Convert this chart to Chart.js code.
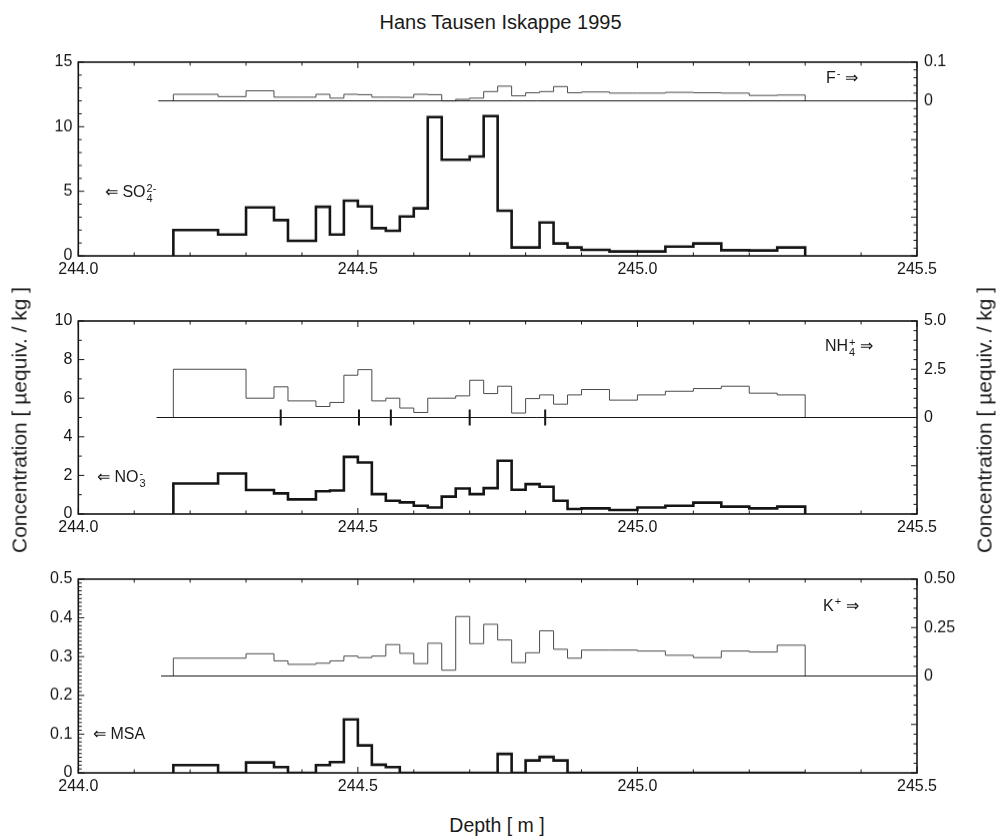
<!DOCTYPE html>
<html>
<head>
<meta charset="utf-8">
<script src="https://cdn.jsdelivr.net/npm/chart.js@4.4.1/dist/chart.umd.min.js"></script>
<style>
  body { margin: 0; background: #fff; }
  #page { position: relative; width: 1001px; height: 839px; overflow: hidden; background: #fff;
          font-family: 'Liberation Sans', Arial, sans-serif; color: #1a1a1a; }
  #page canvas { position: absolute; left: 0; }
  .txt { position: absolute; white-space: nowrap; line-height: 1; }
  .ion { font-size: 16px; }
  .ss { display: inline-block; vertical-align: -0.42em; font-size: 11px; line-height: 10px; margin-left: 1px; }
  .sup { font-size: 11px; vertical-align: 0.55em; margin-left: 1px; }
  .vert { transform: translate(-50%, -50%) rotate(-90deg); font-size: 21px; }
</style>
</head>
<body>
<div id="page">
  <div class="txt" style="left:0;width:1001px;text-align:center;top:12px;font-size:20px;">Hans Tausen Iskappe 1995</div>

  <canvas id="panelSulfate"></canvas>
  <canvas id="panelNitrate"></canvas>
  <canvas id="panelMsa"></canvas>

  <div class="txt ion" style="left:826px;top:68px;">F<span class="sup">-</span> &rArr;</div>
  <div class="txt ion" style="left:105px;top:183px;">&lArr; SO<span class="ss">2-<br>4</span></div>
  <div class="txt ion" style="left:825px;top:337px;">NH<span class="ss">+<br>4</span> &rArr;</div>
  <div class="txt ion" style="left:97px;top:468px;">&lArr; NO<span class="ss">-<br>3</span></div>
  <div class="txt ion" style="left:823px;top:596px;">K<span class="sup">+</span> &rArr;</div>
  <div class="txt ion" style="left:93px;top:726px;">&lArr; MSA</div>

  <div class="txt vert" style="left:19px;top:420px;">Concentration [ &micro;equiv. / kg ]</div>
  <div class="txt vert" style="left:984px;top:420px;">Concentration [ &micro;equiv. / kg ]</div>
  <div class="txt" style="left:0;width:994px;text-align:center;top:816px;font-size:19.5px;">Depth [ m ]</div>
</div>

<script>
// sample boundaries (m) shared by all species
const depthEdges = [244.17, 244.25, 244.30, 244.35, 244.375, 244.40, 244.425, 244.45, 244.475, 244.50,
  244.525, 244.55, 244.575, 244.60, 244.625, 244.65, 244.675, 244.70, 244.725, 244.75,
  244.775, 244.80, 244.825, 244.85, 244.875, 244.90, 244.95, 245.00, 245.05, 245.10,
  245.15, 245.20, 245.25, 245.30];

// one value per sample (µequiv/kg)
const sulfate = [2.0, 1.65, 3.75, 2.77, 1.17, 1.17, 3.8, 1.65, 4.27, 3.83,
  2.15, 1.94, 3.05, 3.68, 10.75, 7.44, 7.44, 7.7, 10.82, 3.5,
  0.65, 0.65, 2.59, 0.96, 0.65, 0.47, 0.34, 0.34, 0.72, 0.96,
  0.44, 0.42, 0.65];
const fluoride = [0.017, 0.011, 0.026, 0.0095, 0.0095, 0.0095, 0.017, 0.007, 0.017, 0.016,
  0.0095, 0.0095, 0.009, 0.017, 0.016, 0.0, 0.004, 0.007, 0.024, 0.038,
  0.013, 0.021, 0.024, 0.037, 0.021, 0.023, 0.02, 0.02, 0.022, 0.021,
  0.02, 0.014, 0.015];
const nitrate = [1.58, 2.1, 1.24, 1.07, 0.76, 0.76, 1.18, 1.22, 2.96, 2.67,
  1.03, 0.69, 0.6, 0.43, 0.34, 0.9, 1.32, 1.03, 1.34, 2.76,
  1.26, 1.55, 1.41, 0.69, 0.26, 0.29, 0.21, 0.34, 0.43, 0.59,
  0.38, 0.29, 0.38];
const ammonium = [2.5, 2.5, 1.0, 1.59, 0.86, 0.86, 0.57, 0.78, 2.19, 2.48,
  0.86, 1.0, 0.49, 0.26, 1.0, 1.0, 1.12, 1.93, 1.24, 1.62,
  0.23, 0.98, 1.17, 0.69, 1.17, 1.45, 0.9, 1.17, 1.36, 1.5,
  1.62, 1.26, 1.17];
const msa = [0.02, 0, 0.027, 0.015, 0, 0, 0.02, 0.028, 0.138, 0.071,
  0.021, 0.015, 0, 0, 0, 0, 0, 0, 0, 0.049,
  0, 0.032, 0.041, 0.032, 0, 0, 0, 0, 0, 0,
  0, 0, 0];
const potassium = [0.092, 0.092, 0.115, 0.078, 0.06, 0.06, 0.066, 0.078, 0.103, 0.095,
  0.103, 0.162, 0.117, 0.064, 0.169, 0.03, 0.307, 0.167, 0.267, 0.186,
  0.069, 0.12, 0.233, 0.138, 0.092, 0.134, 0.134, 0.129, 0.107, 0.095,
  0.129, 0.124, 0.159];

// markers on the NH4+ zero line (m)
const ammoniumMarks = [244.362, 244.502, 244.559, 244.700, 244.835];
// where the zero line of each right-hand series starts (m)
const zeroLineStart = [244.143, 244.14, 244.148];

const depthTicks = [244.0, 244.5, 245.0, 245.5];
const depthTickLabels = ['244.0', '244.5', '245.0', '245.5'];
const sulfateTicks = [0, 5, 10, 15];
const sulfateTickLabels = ['0', '5', '10', '15'];
const fluorideTicks = [0, 0.1];
const fluorideTickLabels = ['0', '0.1'];
const nitrateTicks = [0, 2, 4, 6, 8, 10];
const nitrateTickLabels = ['0', '2', '4', '6', '8', '10'];
const ammoniumTicks = [0, 2.5, 5];
const ammoniumTickLabels = ['0', '2.5', '5.0'];
const msaTicks = [0, 0.1, 0.2, 0.3, 0.4, 0.5];
const msaTickLabels = ['0', '0.1', '0.2', '0.3', '0.4', '0.5'];
const potassiumTicks = [0, 0.25, 0.5];
const potassiumTickLabels = ['0', '0.25', '0.50'];

const FONT = "'Liberation Sans', Arial, sans-serif";
const INK = '#151515';

function stepPoints(values) {
  const pts = [{ x: depthEdges[0], y: 0 }];
  values.forEach((v, i) => pts.push({ x: depthEdges[i], y: v }));
  pts.push({ x: depthEdges[values.length], y: 0 });
  return pts;
}

// box around the plot plus short inward tick marks
const frameTicks = {
  id: 'frameTicks',
  afterDraw(chart, args, opts) {
    const { ctx, chartArea: a, scales } = chart;
    ctx.save();
    ctx.strokeStyle = INK;
    ctx.lineWidth = 1;
    const marks = (scale, major, minor, draw) => {
      const first = Math.ceil(scale.min / minor - 1e-6);
      const last = Math.floor(scale.max / minor + 1e-6);
      for (let i = first; i <= last; i++) {
        const v = i * minor;
        const isMajor = major && Math.abs(v / major - Math.round(v / major)) < 1e-6;
        draw(scale.getPixelForValue(v), isMajor ? 6 : 3.5);
      }
    };
    ctx.beginPath();
    marks(scales.x, opts.x[0], opts.x[1], (p, len) => {
      ctx.moveTo(p, a.bottom); ctx.lineTo(p, a.bottom - len);
      ctx.moveTo(p, a.top); ctx.lineTo(p, a.top + len);
    });
    marks(scales.y, opts.y[0], opts.y[1], (p, len) => {
      ctx.moveTo(a.left, p); ctx.lineTo(a.left + len, p);
    });
    marks(scales.y2, opts.y2[0], opts.y2[1], (p, len) => {
      ctx.moveTo(a.right, p); ctx.lineTo(a.right - len, p);
    });
    ctx.stroke();
    ctx.lineWidth = 1.6;
    ctx.strokeRect(a.left, a.top, a.right - a.left, a.bottom - a.top);
    ctx.restore();
  }
};

function axis(position, min, max, ticks, labels, width) {
  return {
    type: 'linear', position, min, max,
    grid: { display: false, drawTicks: false },
    border: { display: false },
    afterBuildTicks: s => { s.ticks = ticks.map(v => ({ value: v })); },
    afterFit: s => { s.width = width; },
    ticks: {
      callback: (v, i) => labels[i],
      padding: position === 'left' ? 6 : 7,
      font: { family: FONT, size: 16 }, color: INK
    }
  };
}

function makePanel(id, top, areaHeight, cfg) {
  const canvas = document.getElementById(id);
  const padTop = 22, xHeight = 30;
  const height = padTop + areaHeight + xHeight;
  canvas.width = 1001; canvas.height = height;
  canvas.style.top = (top - padTop) + 'px';
  canvas.style.width = '1001px'; canvas.style.height = height + 'px';

  const datasets = [
    { data: [{ x: cfg.zeroFrom, y: 0 }, { x: 245.5, y: 0 }], yAxisID: 'y2',
      borderColor: INK, borderWidth: 1 },
    { data: stepPoints(cfg.right), yAxisID: 'y2', stepped: 'before',
      borderColor: '#4a4a4a', borderWidth: 1 },
    { data: stepPoints(cfg.left), yAxisID: 'y', stepped: 'before',
      borderColor: INK, borderWidth: 2.6 }
  ];
  if (cfg.marks) {
    datasets.push({ data: cfg.marks.map(d => ({ x: d, y: 0 })), yAxisID: 'y2', showLine: false,
      pointStyle: 'line', rotation: 90, pointRadius: 8, pointBorderWidth: 2,
      pointBorderColor: INK });
  }

  return new Chart(canvas, {
    type: 'line',
    data: { datasets },
    plugins: [frameTicks],
    options: {
      responsive: false,
      animation: false,
      events: [],
      devicePixelRatio: 1,
      layout: { padding: { top: padTop, left: 0, right: 0, bottom: 0 } },
      elements: { point: { radius: 0 }, line: { tension: 0, borderJoinStyle: 'miter' } },
      plugins: {
        legend: { display: false },
        tooltip: { enabled: false },
        frameTicks: { x: [0.5, 0.1], y: cfg.yMarks, y2: cfg.y2Marks }
      },
      scales: {
        x: {
          type: 'linear', min: 244.0, max: 245.5,
          grid: { display: false, drawTicks: false },
          border: { display: false },
          afterBuildTicks: s => { s.ticks = depthTicks.map(v => ({ value: v })); },
          afterFit: s => { s.height = xHeight; },
          ticks: {
            callback: (v, i) => depthTickLabels[i],
            padding: 4, maxRotation: 0, autoSkip: false,
            font: { family: FONT, size: 16 }, color: INK
          }
        },
        y: axis('left', cfg.yRange[0], cfg.yRange[1], cfg.yTicks, cfg.yLabels, 78.3),
        y2: axis('right', cfg.y2Range[0], cfg.y2Range[1], cfg.y2Ticks, cfg.y2Labels, 84)
      }
    }
  });
}

makePanel('panelSulfate', 62.3, 193.4, {
  left: sulfate, right: fluoride, zeroFrom: zeroLineStart[0],
  yRange: [0, 15], yTicks: sulfateTicks, yLabels: sulfateTickLabels, yMarks: [5, 1],
  y2Range: [-0.4, 0.1], y2Ticks: fluorideTicks, y2Labels: fluorideTickLabels, y2Marks: [0.1, 0.02]
});

makePanel('panelNitrate', 320.7, 193.3, {
  left: nitrate, right: ammonium, zeroFrom: zeroLineStart[1], marks: ammoniumMarks,
  yRange: [0, 10], yTicks: nitrateTicks, yLabels: nitrateTickLabels, yMarks: [2, 1],
  y2Range: [-5, 5], y2Ticks: ammoniumTicks, y2Labels: ammoniumTickLabels, y2Marks: [2.5, 0.5]
});

makePanel('panelMsa', 579.3, 193.4, {
  left: msa, right: potassium, zeroFrom: zeroLineStart[2],
  yRange: [0, 0.5], yTicks: msaTicks, yLabels: msaTickLabels, yMarks: [0.1, 0.01],
  y2Range: [-0.5, 0.5], y2Ticks: potassiumTicks, y2Labels: potassiumTickLabels, y2Marks: [0.25, 0.05]
});
</script>
</body>
</html>
